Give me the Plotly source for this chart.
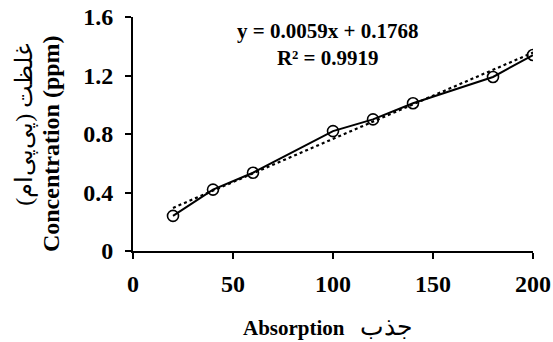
import plotly.graph_objects as go

absorption = [20, 40, 60, 100, 120, 140, 180, 200]
concentration = [0.24, 0.42, 0.535, 0.82, 0.90, 1.01, 1.19, 1.34]
slope = 0.0059
intercept = 0.1768
eq_text = "y = 0.0059x + 0.1768<br>R² = 0.9919"
x_ticks = [0, 50, 100, 150, 200]
y_ticks = [0, 0.4, 0.8, 1.2, 1.6]
y_tick_labels = ["0", "0.4", "0.8", "1.2", "1.6"]

FONT = "Liberation Serif, Times New Roman, serif"

trend_x = [absorption[0], absorption[-1]]
trend_y = [slope * v + intercept for v in trend_x]

fig = go.Figure()
fig.add_trace(go.Scatter(x=trend_x, y=trend_y, mode="lines",
                         line=dict(color="black", width=2.2, dash="dot"),
                         showlegend=False, hoverinfo="skip"))
fig.add_trace(go.Scatter(x=absorption, y=concentration, mode="lines+markers",
                         line=dict(color="black", width=2),
                         marker=dict(symbol="circle-open", size=11, color="black",
                                     line=dict(width=1.6, color="black")),
                         showlegend=False))

fig.update_layout(
    width=553, height=342,
    margin=dict(l=133, r=20, t=17, b=91, autoexpand=False),
    paper_bgcolor="white", plot_bgcolor="white",
    font=dict(family=FONT, color="black"),
    xaxis=dict(range=[0, 200], tickvals=x_ticks, showgrid=False, zeroline=False,
               automargin=False,
               showline=True, linecolor="black", linewidth=2,
               ticks="outside", ticklen=6, tickwidth=2, tickcolor="black",
               ticklabelstandoff=4,
               tickfont=dict(family=FONT, size=24, color="black", weight="bold")),
    yaxis=dict(range=[0, 1.6], tickvals=y_ticks, ticktext=y_tick_labels,
               showgrid=False, zeroline=False, automargin=False,
               showline=True, linecolor="black", linewidth=2,
               ticks="outside", ticklen=6, tickwidth=2, tickcolor="black",
               ticklabelstandoff=7,
               tickfont=dict(family=FONT, size=24, color="black", weight="bold")),
)

fig.add_annotation(x=0.485, y=0.8825, xref="paper", yref="paper", yanchor="middle",
                   text=eq_text, showarrow=False, align="center",
                   font=dict(family=FONT, size=21, color="black", weight="bold"))
fig.add_annotation(x=0.486, y=-0.258, xref="paper", yref="paper", yanchor="top",
                   text="<b>Absorption</b>   <span style='font-size:25px'>جذب</span>",
                   showarrow=False,
                   font=dict(family=FONT, size=21, color="black"))
fig.add_annotation(x=-0.205, y=0.457, xref="paper", yref="paper", xanchor="center",
                   yanchor="middle",
                   text="<b>Concentration (ppm)</b>", textangle=-90, showarrow=False,
                   font=dict(family=FONT, size=24, color="black"))
fig.add_annotation(x=-0.27, y=0.54, xref="paper", yref="paper", xanchor="center",
                   yanchor="middle",
                   text="غلظت (پی‌پی‌ام)", textangle=-90, showarrow=False,
                   font=dict(family=FONT, size=24, color="black"))

fig.write_html("out.html", config={"displayModeBar": False},
               post_script="document.body.style.margin='0';")
